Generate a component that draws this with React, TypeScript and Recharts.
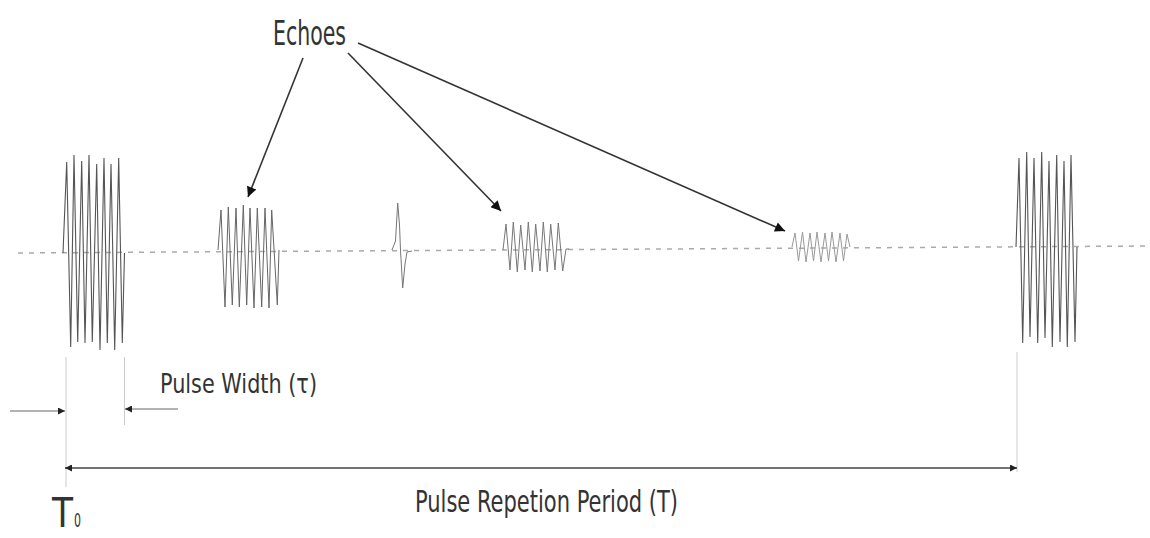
import React from 'react';
import { ComposedChart, Line, XAxis, YAxis, ReferenceLine, Scatter } from 'recharts';

// time axis (x) and signal level (y, 0 = zero line)
const zeroLine = [{ x: 18, y: -3 }, { x: 1150, y: 4 }];

const transmittedPulse = [
  { x: 63, y: -3 }, { x: 66.7, y: 88 }, { x: 70.7, y: -97 }, { x: 74, y: 95 }, { x: 77.7, y: -92 },
  { x: 81.7, y: 89 }, { x: 85, y: -93 }, { x: 89, y: 95 }, { x: 92.3, y: -92 }, { x: 96.7, y: 86 },
  { x: 100, y: -100 }, { x: 104, y: 92 }, { x: 107.3, y: -93 }, { x: 111, y: 86 }, { x: 114.7, y: -100 },
  { x: 118.7, y: 92 }, { x: 122.3, y: -93 }, { x: 124.5, y: -3 },
];

const echo1 = [
  { x: 218, y: 0 }, { x: 221, y: 40 }, { x: 225, y: -57 }, { x: 228.3, y: 43 }, { x: 232.3, y: -55 },
  { x: 236, y: 42 }, { x: 239.3, y: -57 }, { x: 243.3, y: 45 }, { x: 246.7, y: -55 }, { x: 250, y: 42 },
  { x: 254, y: -58 }, { x: 257.3, y: 42 }, { x: 261.7, y: -57 }, { x: 265, y: 42 }, { x: 269, y: -58 },
  { x: 271.7, y: 40 }, { x: 277.3, y: -55 }, { x: 279, y: 0 },
];

const spike = [
  { x: 392, y: 0 }, { x: 395.5, y: 9 }, { x: 397.7, y: 47 }, { x: 399.5, y: 25 }, { x: 400.5, y: 0 },
  { x: 402.7, y: -38 }, { x: 405, y: -14 }, { x: 407, y: -2 }, { x: 412, y: -1 },
];

const echo3 = [
  { x: 503, y: 0 }, { x: 506, y: 26 }, { x: 510, y: -20 }, { x: 513.3, y: 28 }, { x: 517.3, y: -22 },
  { x: 520.7, y: 25 }, { x: 525, y: -20 }, { x: 528.3, y: 28 }, { x: 532.3, y: -22 }, { x: 535.7, y: 26 },
  { x: 540, y: -21 }, { x: 543.3, y: 28 }, { x: 547.3, y: -22 }, { x: 550.7, y: 26 }, { x: 555, y: -20 },
  { x: 558.3, y: 27 }, { x: 562.7, y: -21 }, { x: 566, y: 1 }, { x: 569, y: 1 },
];

const echo4 = [
  { x: 792, y: 3 }, { x: 795, y: 17 }, { x: 798.5, y: -11 }, { x: 802.5, y: 18 }, { x: 806, y: -12 },
  { x: 810, y: 17 }, { x: 813.5, y: -11 }, { x: 817, y: 18 }, { x: 821, y: -12 }, { x: 825, y: 17 },
  { x: 828.5, y: -11 }, { x: 832, y: 18 }, { x: 836, y: -12 }, { x: 840, y: 17 }, { x: 843.5, y: -11 },
  { x: 847, y: 16 }, { x: 850, y: 3 },
];

const nextPulse = [
  { x: 1016, y: 3 }, { x: 1019, y: 92 }, { x: 1022.7, y: -93 }, { x: 1026.7, y: 98 }, { x: 1030, y: -87 },
  { x: 1034, y: 92 }, { x: 1037.7, y: -93 }, { x: 1041.7, y: 98 }, { x: 1045, y: -88 }, { x: 1049, y: 89 },
  { x: 1052.3, y: -97 }, { x: 1056.7, y: 95 }, { x: 1060, y: -92 }, { x: 1064, y: 89 }, { x: 1067.3, y: -97 },
  { x: 1071, y: 95 }, { x: 1075, y: -92 }, { x: 1077, y: 3 },
];

// annotation anchors
const echoArrows = [
  { x1: 303, y1: 192, x2: 248, y2: 53 },
  { x1: 348, y1: 197, x2: 501, y2: 39 },
  { x1: 358, y1: 207, x2: 785, y2: 19 },
];
const widthArrows = [
  { x1: 10, y1: -161, x2: 65, y2: -161 },
  { x1: 178, y1: -159, x2: 125, y2: -159 },
];
const periodArrow = { x1: 65, y1: -218, x2: 1017, y2: -218 };
const guides = [
  { x: 66, y1: -107, y2: -237 },
  { x: 124.5, y1: -107, y2: -175 },
  { x: 1017, y1: -102, y2: -222 },
];
const labels = [
  { x: 273, y: 205, text: 'Echoes' },
  { x: 160, y: -143, text: 'Pulse Width (τ)' },
  { x: 415, y: -262, text: 'Pulse Repetion Period (T)' },
  { x: 52, y: -277, text: 'T' },
  { x: 74, y: -277, text: '0' },
];

const labelStyle: Record<string, { size: number; len: number }> = {
  Echoes: { size: 34, len: 73 },
  'Pulse Width (τ)': { size: 27, len: 157 },
  'Pulse Repetion Period (T)': { size: 30, len: 263 },
  T: { size: 40, len: 21 },
  '0': { size: 20, len: 7 },
};

const renderLabel = (props: any) => {
  const { cx, cy, payload } = props;
  const st = labelStyle[payload.text];
  return (
    <text
      x={cx}
      y={cy}
      fontSize={st.size}
      fontFamily="'DejaVu Sans Condensed', 'DejaVu Sans', sans-serif"
      fill="#333"
      textLength={st.len}
      lengthAdjust="spacingAndGlyphs"
    >
      {payload.text}
    </text>
  );
};

const common = { dataKey: 'y', dot: false, activeDot: false, isAnimationActive: false, type: 'linear' as const };

export default function App() {
  return (
    <div style={{ width: 1150, height: 538, background: '#fff' }}>
      <style>{`body{margin:0;background:#fff}`}</style>
      <ComposedChart width={1150} height={538} margin={{ top: 0, right: 0, bottom: 0, left: 0 }}>
        <defs>
          <marker id="headBig" viewBox="0 0 10 10" refX="10" refY="5" markerWidth="15" markerHeight="10"
            markerUnits="userSpaceOnUse" orient="auto-start-reverse">
            <path d="M0,0 L10,5 L0,10 Z" fill="#111" />
          </marker>
          <marker id="headSmall" viewBox="0 0 10 10" refX="10" refY="5" markerWidth="9" markerHeight="7"
            markerUnits="userSpaceOnUse" orient="auto-start-reverse">
            <path d="M0,0 L10,5 L0,10 Z" fill="#222" />
          </marker>
        </defs>
        <XAxis type="number" dataKey="x" domain={[0, 1150]} allowDataOverflow hide />
        <YAxis type="number" dataKey="y" domain={[-288, 250]} allowDataOverflow hide />

        <Line {...common} data={zeroLine} stroke="#aaa" strokeWidth={1.5} strokeDasharray="5 6" />

        {guides.map((g, i) => (
          <ReferenceLine key={'g' + i} segment={[{ x: g.x, y: g.y1 }, { x: g.x, y: g.y2 }]} stroke="#ccc" strokeWidth={1} />
        ))}

        <Line {...common} data={transmittedPulse} stroke="#555" strokeWidth={1.1} />
        <Line {...common} data={echo1} stroke="#666" strokeWidth={1} />
        <Line {...common} data={spike} stroke="#777" strokeWidth={1} />
        <Line {...common} data={echo3} stroke="#777" strokeWidth={1} />
        <Line {...common} data={echo4} stroke="#999" strokeWidth={1} />
        <Line {...common} data={nextPulse} stroke="#555" strokeWidth={1.1} />

        {echoArrows.map((a, i) => (
          <ReferenceLine key={'e' + i} segment={[{ x: a.x1, y: a.y1 }, { x: a.x2, y: a.y2 }]} stroke="#333"
            strokeWidth={1.6} markerEnd="url(#headBig)" />
        ))}
        {widthArrows.map((a, i) => (
          <ReferenceLine key={'w' + i} segment={[{ x: a.x1, y: a.y1 }, { x: a.x2, y: a.y2 }]} stroke="#666"
            strokeWidth={1.2} markerEnd="url(#headSmall)" />
        ))}
        <ReferenceLine segment={[{ x: periodArrow.x1, y: periodArrow.y1 }, { x: periodArrow.x2, y: periodArrow.y2 }]}
          stroke="#444" strokeWidth={1.5} markerStart="url(#headSmall)" markerEnd="url(#headSmall)" />

        <Scatter data={labels} dataKey="y" shape={renderLabel} isAnimationActive={false} />
      </ComposedChart>
    </div>
  );
}
